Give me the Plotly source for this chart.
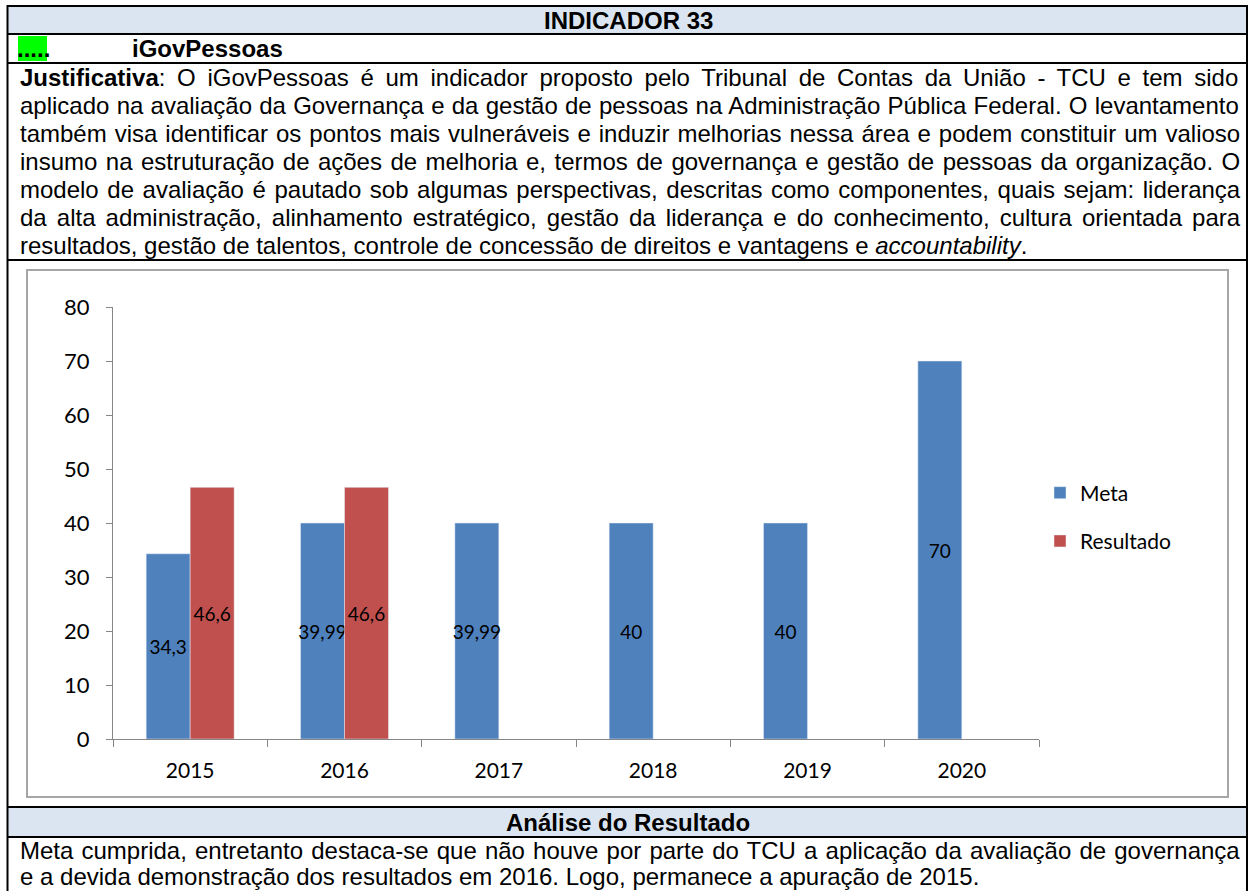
import plotly.graph_objects as go

# ---------------- data ----------------
years = ["2015", "2016", "2017", "2018", "2019", "2020"]
meta = [34.3, 39.99, 39.99, 40, 40, 70]
resultado = [46.6, 46.6, None, None, None, None]
series_names = ["Meta", "Resultado"]
y_tick_values = [0, 10, 20, 30, 40, 50, 60, 70, 80]

header_title = "INDICADOR 33"
header_marker = "....."
header_name = "iGovPessoas"
justification_label = "Justificativa"
justification_lines = [
    ": O iGovPessoas é um indicador proposto pelo Tribunal de Contas da União - TCU e tem sido",
    "aplicado na avaliação da Governança e da gestão de pessoas na Administração Pública Federal. O levantamento",
    "também visa identificar os pontos mais vulneráveis e induzir melhorias nessa área e podem constituir um valioso",
    "insumo na estruturação de ações de melhoria e, termos de governança e gestão de pessoas da organização. O",
    "modelo de avaliação é pautado sob algumas perspectivas, descritas como componentes, quais sejam: liderança",
    "da alta administração, alinhamento estratégico, gestão da liderança e do conhecimento, cultura orientada para",
    "resultados, gestão de talentos, controle de concessão de direitos e vantagens e ",
]
justification_italic = "accountability"
analysis_title = "Análise do Resultado"
analysis_lines = [
    "Meta cumprida, entretanto destaca-se que não houve por parte do TCU a aplicação da avaliação de governança",
    "e a devida demonstração dos resultados em 2016. Logo, permanece a apuração de 2015.",
]


def br_num(v):
    return None if v is None else f"{v:g}".replace(".", ",")


meta_labels = [br_num(v) for v in meta]
res_labels = [br_num(v) for v in resultado]

# ---------------- page geometry (pixels) ----------------
W, H = 1250, 891
PL, PR, PT, PB = 113, 1039, 307, 739  # plot area


def px(x):
    return (x - PL) / (PR - PL)


def py(y):
    return (PB - y) / (PB - PT)


# Arial (Liberation Sans) advance widths, per 1000 em
REG = {' ': 278, ',': 278, '.': 278, ':': 278, ';': 278, '-': 333}
REG.update({d: 556 for d in "0123456789"})
REG.update(dict(A=667, B=667, C=722, D=722, E=667, F=611, G=778, H=722, I=278, J=500, K=667,
                L=556, M=833, N=722, O=778, P=667, Q=778, R=722, S=667, T=611, U=722, V=667,
                W=944, X=667, Y=667, Z=611))
REG.update(dict(a=556, b=556, c=500, d=556, e=556, f=278, g=556, h=556, i=222, j=222, k=500,
                l=222, m=833, n=556, o=556, p=556, q=556, r=333, s=500, t=278, u=556, v=500,
                w=722, x=500, y=500, z=500))
REG.update({c: 556 for c in "áàâãéêóôõú"})
REG.update({'í': 278, 'ç': 500})
BOLD = dict(J=556, u=611, s=556, t=333, i=278, f=333, c=556, a=556, v=556)

FS = 24
TXT_FONT = dict(family="Liberation Sans, Arial, sans-serif", size=FS, color="black")
TX0, TX1 = 18, 1240


def width(s, table):
    return sum(table.get(ch, 556) for ch in s) * FS / 1000.0


def justified(html_prefix, bold_part, text):
    natural = width(bold_part, BOLD) + width(text, REG)
    n = text.count(" ")
    ws = max((TX1 - TX0 - 2 - natural) / n, -2) if n else 0
    return f'<span style="word-spacing:{ws:.2f}px">{html_prefix}{text}</span>'


annotations = []


def add_text(x, y, text, anchor="left", font=TXT_FONT):
    annotations.append(dict(x=px(x), y=py(y), xref="paper", yref="paper", text=text,
                            showarrow=False, xanchor=anchor, yanchor="middle", font=font))


add_text(628, 20, f"<b>{header_title}</b>", anchor="center")
add_text(15, 48, f"<b>{header_marker}</b>")
add_text(130, 48, f"<b>{header_name}</b>")

LINE_H = 28.14
for k, line in enumerate(justification_lines):
    yc = 63 + 14 + LINE_H * k
    if k == 0:
        add_text(TX0, yc, justified(f"<b>{justification_label}</b>", justification_label, line))
    elif k == len(justification_lines) - 1:
        add_text(TX0, yc, f"{line}<i>{justification_italic}</i>.")
    else:
        add_text(TX0, yc, justified("", "", line))

add_text(628, 822, f"<b>{analysis_title}</b>", anchor="center")
for k, line in enumerate(analysis_lines):
    yc = 837 + 13 + 26 * k
    if k < len(analysis_lines) - 1:
        add_text(TX0, yc, justified("", "", line))
    else:
        add_text(TX0, yc, line)

# ---------------- shapes (table) ----------------
shapes = []


def rect(x0, y0, x1, y1, fill=None, line_color=None, lw=0, layer="below"):
    shapes.append(dict(type="rect", xref="paper", yref="paper", x0=px(x0), x1=px(x1),
                       y0=py(y0), y1=py(y1), fillcolor=fill or "rgba(0,0,0,0)",
                       line=dict(color=line_color or "rgba(0,0,0,0)", width=lw), layer=layer))


def hline(y, color="black", lw=2):
    shapes.append(dict(type="line", xref="paper", yref="paper", x0=px(7), x1=px(1248),
                       y0=py(y), y1=py(y), line=dict(color=color, width=lw)))


def vline(x, y0, y1, color="black", lw=2):
    shapes.append(dict(type="line", xref="paper", yref="paper", x0=px(x), x1=px(x),
                       y0=py(y0), y1=py(y1), line=dict(color=color, width=lw)))


HEAD_FILL = "#DBE5F1"
rect(8, 6, 1247, 34, fill=HEAD_FILL)
rect(8, 807, 1247, 837, fill=HEAD_FILL)
rect(18, 36, 47, 61, fill="#00FF00")
rect(27, 270, 1228, 797, line_color="#A6A6A6", lw=2)
for yy in (6, 34, 63, 260, 807, 837):
    hline(yy)
vline(7.5, 5, 900)
vline(1247, 5, 900)

# ---------------- chart ----------------
CH_FAMILY = "Lato, Open Sans, sans-serif"
LBL_FONT = dict(family=CH_FAMILY, size=19, color="black")

fig = go.Figure()
fig.add_trace(go.Bar(x=years, y=meta, name=series_names[0], marker_color="#4F81BD",
                     text=meta_labels, textposition="inside", insidetextanchor="middle",
                     textangle=0, constraintext="none", textfont=LBL_FONT,
                     legendgroup="m", cliponaxis=False))
fig.add_trace(go.Bar(x=years, y=resultado, name=series_names[1], marker_color="#C0504D",
                     text=res_labels, textposition="inside", insidetextanchor="middle",
                     textangle=0, constraintext="none", textfont=LBL_FONT,
                     legendgroup="r", cliponaxis=False))

fig.update_layout(
    width=W, height=H,
    margin=dict(l=PL, r=W - PR, t=PT, b=H - PB, pad=0),
    paper_bgcolor="white", plot_bgcolor="white",
    barmode="group", bargap=0.43, bargroupgap=0,
    showlegend=True,
    legend=dict(x=px(1040), xanchor="left", y=py(517), yanchor="middle",
                font=dict(family=CH_FAMILY, size=21, color="black"),
                tracegroupgap=18, itemwidth=30, bgcolor="rgba(0,0,0,0)"),
    xaxis=dict(type="category", showline=True, linecolor="#868686", linewidth=1,
               ticks="outside", tickson="boundaries", ticklen=7, tickcolor="#868686",
               showgrid=False, zeroline=False, ticklabelstandoff=13,
               tickfont=dict(family=CH_FAMILY, size=21, color="black")),
    yaxis=dict(range=[0, 80], tickvals=y_tick_values, showline=True, linecolor="#868686",
               linewidth=1, ticks="outside", ticklen=6, tickcolor="#868686",
               showgrid=False, zeroline=False, ticklabelstandoff=12,
               tickfont=dict(family=CH_FAMILY, size=22, color="black")),
    shapes=shapes,
    annotations=annotations,
)

fig.write_html("out.html", config={"displayModeBar": False},
               post_script="document.body.style.margin='0';document.body.style.overflow='hidden';")
